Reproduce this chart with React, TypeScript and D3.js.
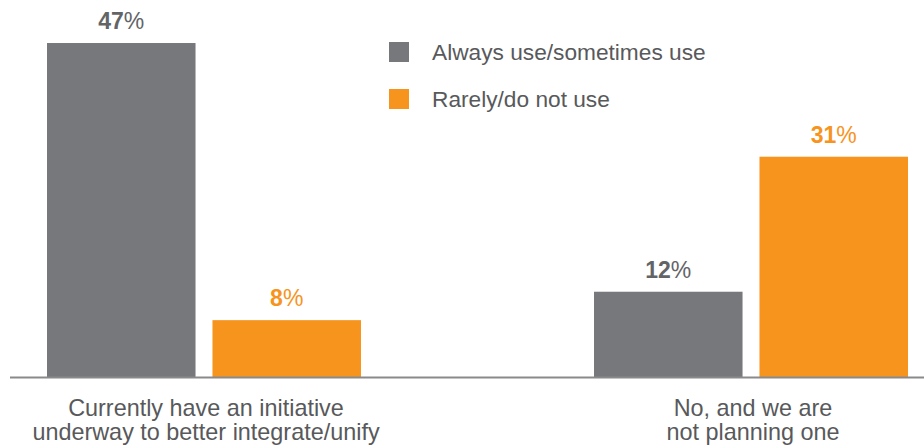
import React from "react";
import * as d3 from "d3";

const categories = ["Currently have an initiative\nunderway to better integrate/unify", "No, and we are\nnot planning one"];
const seriesNames = ["Always use/sometimes use", "Rarely/do not use"];
const alwaysValues = [47, 12];
const rarelyValues = [8, 31];
const seriesColors = ["#77787b", "#f7941d"];
const labelColors = ["#636466", "#f7941d"];

const W = 924;
const H = 448;
const FONT = "'Liberation Sans', Arial, Helvetica, sans-serif";

export default function App() {
  const x0 = d3.scaleBand<string>().domain(categories).range([47, 908]).paddingInner(0.426).paddingOuter(0);
  const x1 = d3.scaleBand<string>().domain(seriesNames).range([0, x0.bandwidth()]).paddingInner(0.1024).paddingOuter(0);
  const y = d3.scaleLinear().domain([0, 50]).range([377, 21.7]);
  const seriesValues = [alwaysValues, rarelyValues];

  return (
    <svg width={W} height={H} style={{ position: "absolute", left: 0, top: 0, background: "#fff" }} fontFamily={FONT}>
      {categories.map((cat, ci) => (
        <g key={cat} transform={`translate(${x0(cat)},0)`}>
          {seriesNames.map((s, si) => {
            const v = seriesValues[si][ci];
            const bx = x1(s)!;
            const bw = x1.bandwidth();
            return (
              <g key={s}>
                <rect x={bx} y={y(v)} width={bw} height={y(0) - y(v)} fill={seriesColors[si]} />
                <text x={bx + bw / 2} y={y(v) - 14} textAnchor="middle" fontSize={23} fill={labelColors[si]}>
                  <tspan fontWeight="bold">{v}</tspan>
                  <tspan fontWeight="normal">%</tspan>
                </text>
              </g>
            );
          })}
        </g>
      ))}
      <line x1={10} x2={924} y1={y(0) + 0.5} y2={y(0) + 0.5} stroke="#8a8a8c" strokeWidth={2} />
      {categories.map((cat) => {
        const cx = x0(cat)! + x0.bandwidth() / 2 + 2;
        return (
          <text key={cat} textAnchor="middle" fontSize={23.4} fill="#58595b">
            {cat.split("\n").map((line, li) => (
              <tspan key={li} x={cx} y={416 + li * 24}>
                {line}
              </tspan>
            ))}
          </text>
        );
      })}
      {seriesNames.map((s, si) => (
        <g key={s} transform={`translate(389,${42 + si * 47})`}>
          <rect x={0} y={0} width={20} height={20} fill={seriesColors[si]} />
          <text x={43} y={18} fontSize={22.7} fill="#58595b">
            {s}
          </text>
        </g>
      ))}
    </svg>
  );
}
